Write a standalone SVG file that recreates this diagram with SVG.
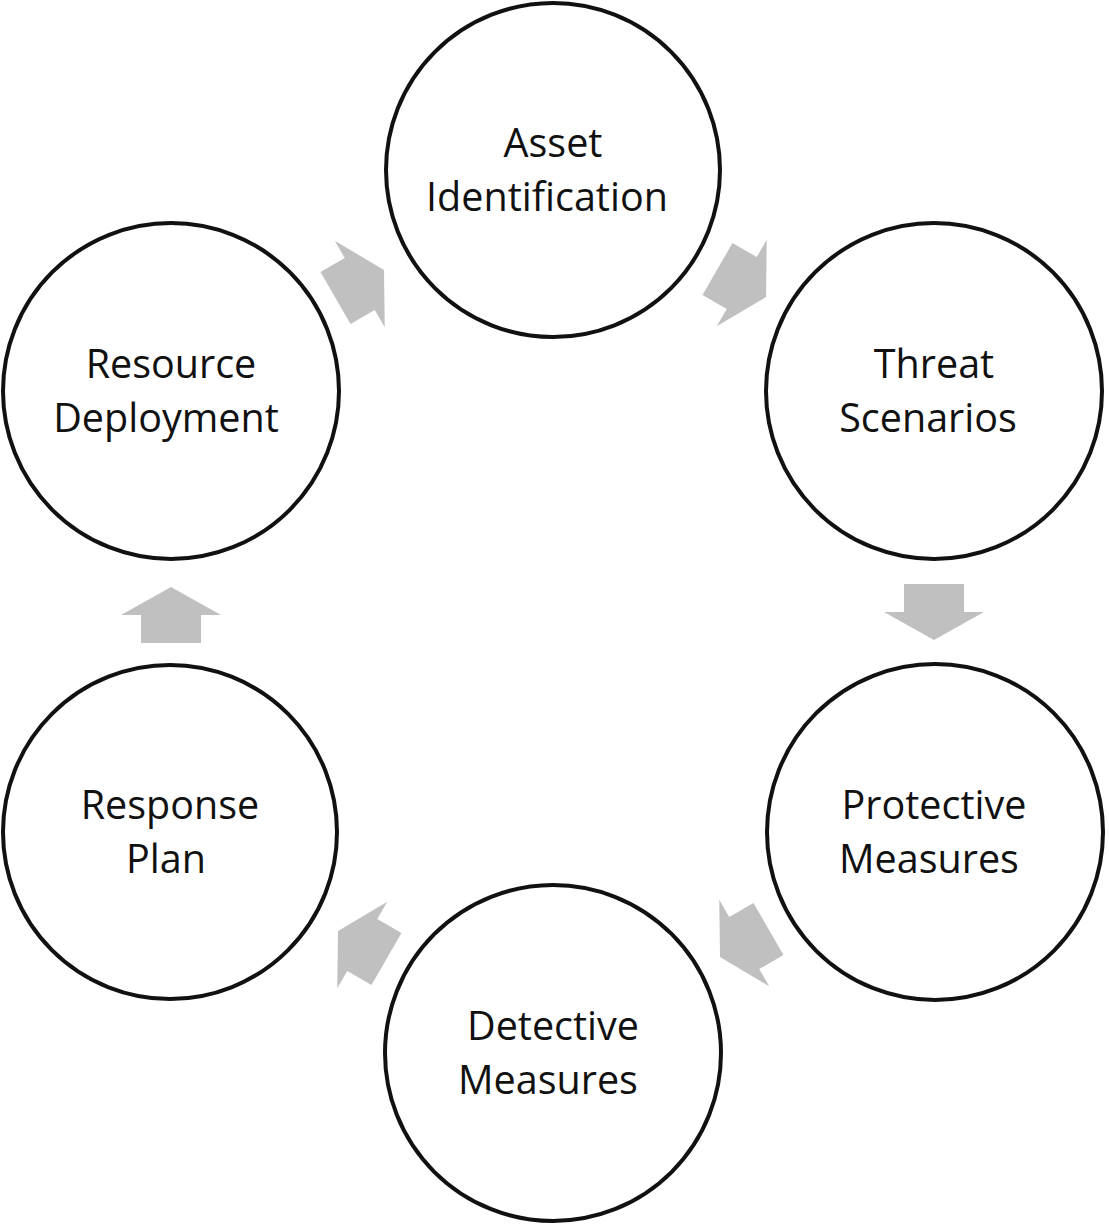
<svg xmlns="http://www.w3.org/2000/svg" width="1109" height="1225" viewBox="0 0 1109 1225">
<style>
.node circle{fill:#fff;stroke:#111;stroke-width:4}
.node text{font-family:"Open Sans","Liberation Sans",sans-serif;font-size:39.5px;fill:#111;text-anchor:middle}
.arrow{fill:#c0c0c0}
</style>
<defs>
<polygon id="arr" points="0,0 -28,-50 -28,-30 -56,-30 -56,30 -28,30 -28,50"/>
</defs>
<rect width="1109" height="1225" fill="#fff"/>
<g id="connectors">
<use href="#arr" class="arrow" transform="translate(384,270) rotate(-30)"/>
<use href="#arr" class="arrow" transform="translate(766,297) rotate(30)"/>
<use href="#arr" class="arrow" transform="translate(934,640) rotate(90)"/>
<use href="#arr" class="arrow" transform="translate(720,957) rotate(150)"/>
<use href="#arr" class="arrow" transform="translate(338,931) rotate(210)"/>
<use href="#arr" class="arrow" transform="translate(171,587) rotate(-90)"/>
</g>
<g id="asset" class="node"><circle cx="553" cy="170" r="167"/><text x="553" y="157">Asset</text><text x="547" y="211">Identification</text></g>
<g id="threat" class="node"><circle cx="934" cy="391" r="168"/><text x="934" y="378">Threat</text><text x="928" y="432">Scenarios</text></g>
<g id="protective" class="node"><circle cx="935" cy="832" r="168"/><text x="934" y="819">Protective</text><text x="929" y="873">Measures</text></g>
<g id="detective" class="node"><circle cx="553" cy="1053" r="168"/><text x="553" y="1040">Detective</text><text x="548" y="1094">Measures</text></g>
<g id="response" class="node"><circle cx="170" cy="832" r="167"/><text x="170" y="819">Response</text><text x="166" y="873">Plan</text></g>
<g id="resource" class="node"><circle cx="171" cy="391" r="168"/><text x="171" y="378">Resource</text><text x="166" y="432">Deployment</text></g>
</svg>
